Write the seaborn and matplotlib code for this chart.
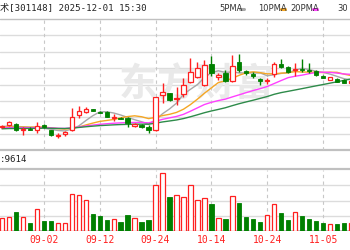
import numpy as np
import pandas as pd
import matplotlib
matplotlib.use("Agg")
import matplotlib.pyplot as plt
import seaborn as sns

# ---------------- data ----------------
dates = ["08-25", "08-26", "08-27", "08-28", "08-29", "09-01", "09-02", "09-03",
         "09-04", "09-05", "09-08", "09-09", "09-10", "09-11", "09-12", "09-15",
         "09-16", "09-17", "09-18", "09-19", "09-22", "09-23", "09-24", "09-25",
         "09-26", "09-29", "09-30", "10-09", "10-10", "10-13", "10-14", "10-15",
         "10-16", "10-17", "10-20", "10-21", "10-22", "10-23", "10-24", "10-27",
         "10-28", "10-29", "10-30", "10-31", "11-03", "11-04", "11-05", "11-06",
         "11-07", "11-10", "11-11"]
open_ = [24.70, 25.00, 25.20, 24.00, 24.30, 24.10, 25.10, 24.00, 22.84, 23.30,
         24.00, 27.00, 27.60, 28.10, 27.70, 27.70, 26.40, 26.50, 26.40, 24.80,
         25.10, 24.60, 24.00, 31.00, 31.40, 30.30, 31.20, 33.66, 34.66, 33.00,
         37.10, 34.70, 35.34, 33.90, 37.66, 35.70, 35.10, 34.10, 33.80, 35.14,
         37.20, 36.66, 36.00, 36.20, 36.00, 35.90, 34.90, 34.10, 34.30, 34.10,
         33.40]
close = [24.84, 25.60, 24.00, 24.20, 24.10, 24.80, 24.60, 23.00, 23.00, 23.66,
         26.60, 27.80, 28.30, 27.90, 27.50, 26.70, 26.60, 26.30, 25.50, 25.20,
         24.70, 24.10, 30.66, 31.60, 30.00, 30.50, 33.00, 35.60, 36.34, 37.00,
         35.40, 34.90, 33.90, 36.90, 36.00, 35.40, 34.90, 33.90, 34.00, 37.14,
         36.66, 35.66, 36.30, 36.00, 35.80, 35.00, 34.50, 34.60, 33.70, 33.50,
         33.80]
high = [25.10, 25.90, 25.40, 24.60, 24.60, 25.70, 25.30, 24.10, 23.46, 23.90,
        28.40, 28.90, 28.70, 28.30, 27.90, 27.90, 27.20, 26.70, 26.60, 25.40,
        25.20, 25.00, 30.70, 33.40, 31.50, 32.60, 34.40, 38.34, 37.60, 38.00,
        38.90, 35.40, 36.00, 39.10, 39.16, 36.10, 35.66, 34.50, 34.50, 37.66,
        38.14, 36.80, 37.46, 38.14, 37.46, 36.10, 35.10, 34.70, 34.40, 34.20,
        34.20]
low = [24.50, 24.90, 23.80, 23.00, 24.00, 23.40, 24.50, 22.90, 22.34, 22.80,
       23.90, 26.40, 27.40, 27.80, 27.40, 26.60, 25.86, 26.20, 24.60, 24.60,
       24.50, 23.40, 23.80, 29.40, 29.90, 29.00, 30.66, 33.40, 34.40, 32.80,
       34.80, 34.00, 33.66, 33.66, 35.66, 35.00, 34.34, 33.10, 33.20, 34.66,
       36.40, 35.50, 34.80, 35.66, 35.46, 34.90, 34.40, 34.00, 33.60, 33.40,
       33.20]
volume = [13.3, 14.0, 19.3, 14.0, 8.3, 22.0, 10.3, 10.3, 8.3, 8.3,
          37.3, 36.3, 31.3, 17.3, 14.7, 11.3, 12.3, 8.7, 16.0, 13.3,
          8.7, 11.0, 46.0, 57.7, 33.7, 35.7, 33.7, 46.0, 31.0, 32.7,
          26.7, 13.3, 12.0, 35.5, 28.3, 14.0, 12.3, 9.3, 15.7, 27.0,
          17.7, 11.0, 19.0, 14.7, 12.0, 10.0, 8.3, 7.3, 6.7, 8.3, 8.0]
# closes before the visible window (needed for the moving averages)
prior_close = [23.9, 24.0, 23.8, 23.9, 24.1, 23.7, 23.8, 24.0, 23.9, 24.0,
               24.2, 24.1, 24.3, 24.2, 24.4, 24.3, 24.5, 24.4, 24.3, 24.5,
               24.2, 24.3, 24.4, 24.2, 24.5, 24.6, 24.7, 24.5, 24.6]
tick_dates = ["09-02", "09-12", "09-24", "10-14", "10-24", "11-05"]
ma_windows = [5, 10, 20, 30]
ma_names = ["5PMA", "10PMA", "20PMA", "30"]
ma_colors = ["#a8a8a8", "#f5a623", "#ff40ff", "#2e8b4a"]
title_text = "术[301148] 2025-12-01 15:30"
vol_label = ":9614"

# ---------------- style ----------------
sns.set_theme(style="white")
plt.rcParams["font.family"] = ["DejaVu Sans Mono", "Noto Sans CJK SC"]

W, H = 350, 250
fig = plt.figure(figsize=(W / 100, H / 100), dpi=100)
fig.patch.set_facecolor("white")

def fx(px):
    return px / W

def fy(py):
    return 1 - py / H

step = 6.98
x0 = 2.0
xlim = (-x0 / step, (W - x0) / step)
RED = "#ff2020"
GREEN = "#008000"
GRID = "#dcdcdc"
DARK = "#c0c0c0"

n = len(close)
idx = np.arange(n)
o = np.array(open_); c = np.array(close); h = np.array(high); l = np.array(low)
up = c >= o
tick_pos = [dates.index(d) for d in tick_dates]

# ---------------- price panel ----------------
top_px, bot_px = 19, 150
ax = fig.add_axes([0, fy(bot_px), 1, (bot_px - top_px) / H])
ylo, yhi = 50 - bot_px / 5, 50 - top_px / 5
ax.set_xlim(*xlim)
ax.set_ylim(ylo, yhi)
for gy in np.linspace(ylo, yhi, 9)[1:-1]:
    ax.axhline(gy, color=GRID, lw=1.0, zorder=0)
ax.axhline(yhi, color=DARK, lw=1.0, zorder=0, clip_on=False)
ax.axhline(ylo, color=DARK, lw=1.6, zorder=0, clip_on=False)
for tp in tick_pos:
    ax.axvline(tp, color="#c8c8c8", lw=0.8, ls=(0, (3, 3)), zorder=0)

# watermark
ax.text(0.56, 0.50, "东方财富", transform=ax.transAxes, ha="center", va="center",
        fontsize=28, color="#e9e9e9", fontweight="bold", style="italic",
        family=["Noto Sans CJK SC"], zorder=0.5)

# moving averages
full = pd.Series(prior_close + close)
rows = []
for w in ma_windows:
    ma = full.rolling(w).mean().iloc[len(prior_close):].to_numpy()
    for i in range(n):
        rows.append({"i": i, "v": ma[i], "ma": f"MA{w}"})
df_ma = pd.DataFrame(rows)
sns.lineplot(data=df_ma, x="i", y="v", hue="ma",
             palette=dict(zip([f"MA{w}" for w in ma_windows], ma_colors)),
             lw=1.0, legend=False, ax=ax, zorder=2)

# candles
bw = 0.62
colors = np.where(up, RED, GREEN)
ax.vlines(idx, l, h, colors=colors, lw=1.0, zorder=3)
body_b = np.minimum(o, c)
body_h = np.maximum(np.abs(c - o), 0.2)
ax.bar(idx[up], body_h[up], bottom=body_b[up], width=bw, facecolor="white",
       edgecolor=RED, lw=0.9, zorder=4)
ax.bar(idx[~up], body_h[~up], bottom=body_b[~up], width=bw, facecolor=GREEN,
       edgecolor=GREEN, lw=0.6, zorder=4)
ax.set_axis_off()

# ---------------- volume panel ----------------
vtop, vbot = 170, 231
axv = fig.add_axes([0, fy(vbot), 1, (vbot - vtop) / H])
axv.set_xlim(*xlim)
axv.set_ylim(0, vbot - vtop)
for gy in np.linspace(0, vbot - vtop, 5)[1:-1]:
    axv.axhline(gy, color=GRID, lw=1.0, zorder=0)
axv.axhline(0, color=DARK, lw=1.4, zorder=0)
for tp in tick_pos:
    axv.axvline(tp, color="#c8c8c8", lw=0.8, ls=(0, (3, 3)), zorder=0)
v = np.array(volume)
axv.bar(idx[up], v[up], width=bw, facecolor="white", edgecolor=RED, lw=0.9, zorder=3)
axv.bar(idx[~up], v[~up], width=bw, facecolor=GREEN, edgecolor=GREEN, lw=0.6, zorder=3)
for s in axv.spines.values():
    s.set_visible(False)
axv.set_yticks([])
axv.set_xticks(tick_pos)
axv.set_xticklabels(tick_dates, color=RED, fontsize=7)
axv.tick_params(axis="x", length=0, pad=3)
axv.set_facecolor("none")

# strip lines between panels
fig.add_artist(plt.Line2D([0, 1], [fy(168.5), fy(168.5)], color=DARK, lw=1.6))

# ---------------- texts ----------------
fig.text(fx(0.5), fy(8.5), title_text, ha="left", va="center", fontsize=6.6,
         color="#222222", family=["DejaVu Sans Mono", "Noto Sans CJK SC"])
fig.text(fx(0), fy(160), vol_label, ha="left", va="center", fontsize=6.6,
         color="#222222")

leg_x = [219, 258, 290, 337]
for name, px in zip(ma_names, leg_x):
    fig.text(fx(px), fy(8.5), name, ha="left", va="center", fontsize=6,
             color="#333333", family=["Liberation Sans Narrow", "DejaVu Sans"])
for px, col in [(240, ma_colors[0]), (281, ma_colors[1]), (313, ma_colors[2])]:
    fig.add_artist(plt.Line2D([fx(px), fx(px + 4)], [fy(9), fy(9)], color=col, lw=2.2))

fig.savefig("out.png", dpi=100, facecolor="white")
